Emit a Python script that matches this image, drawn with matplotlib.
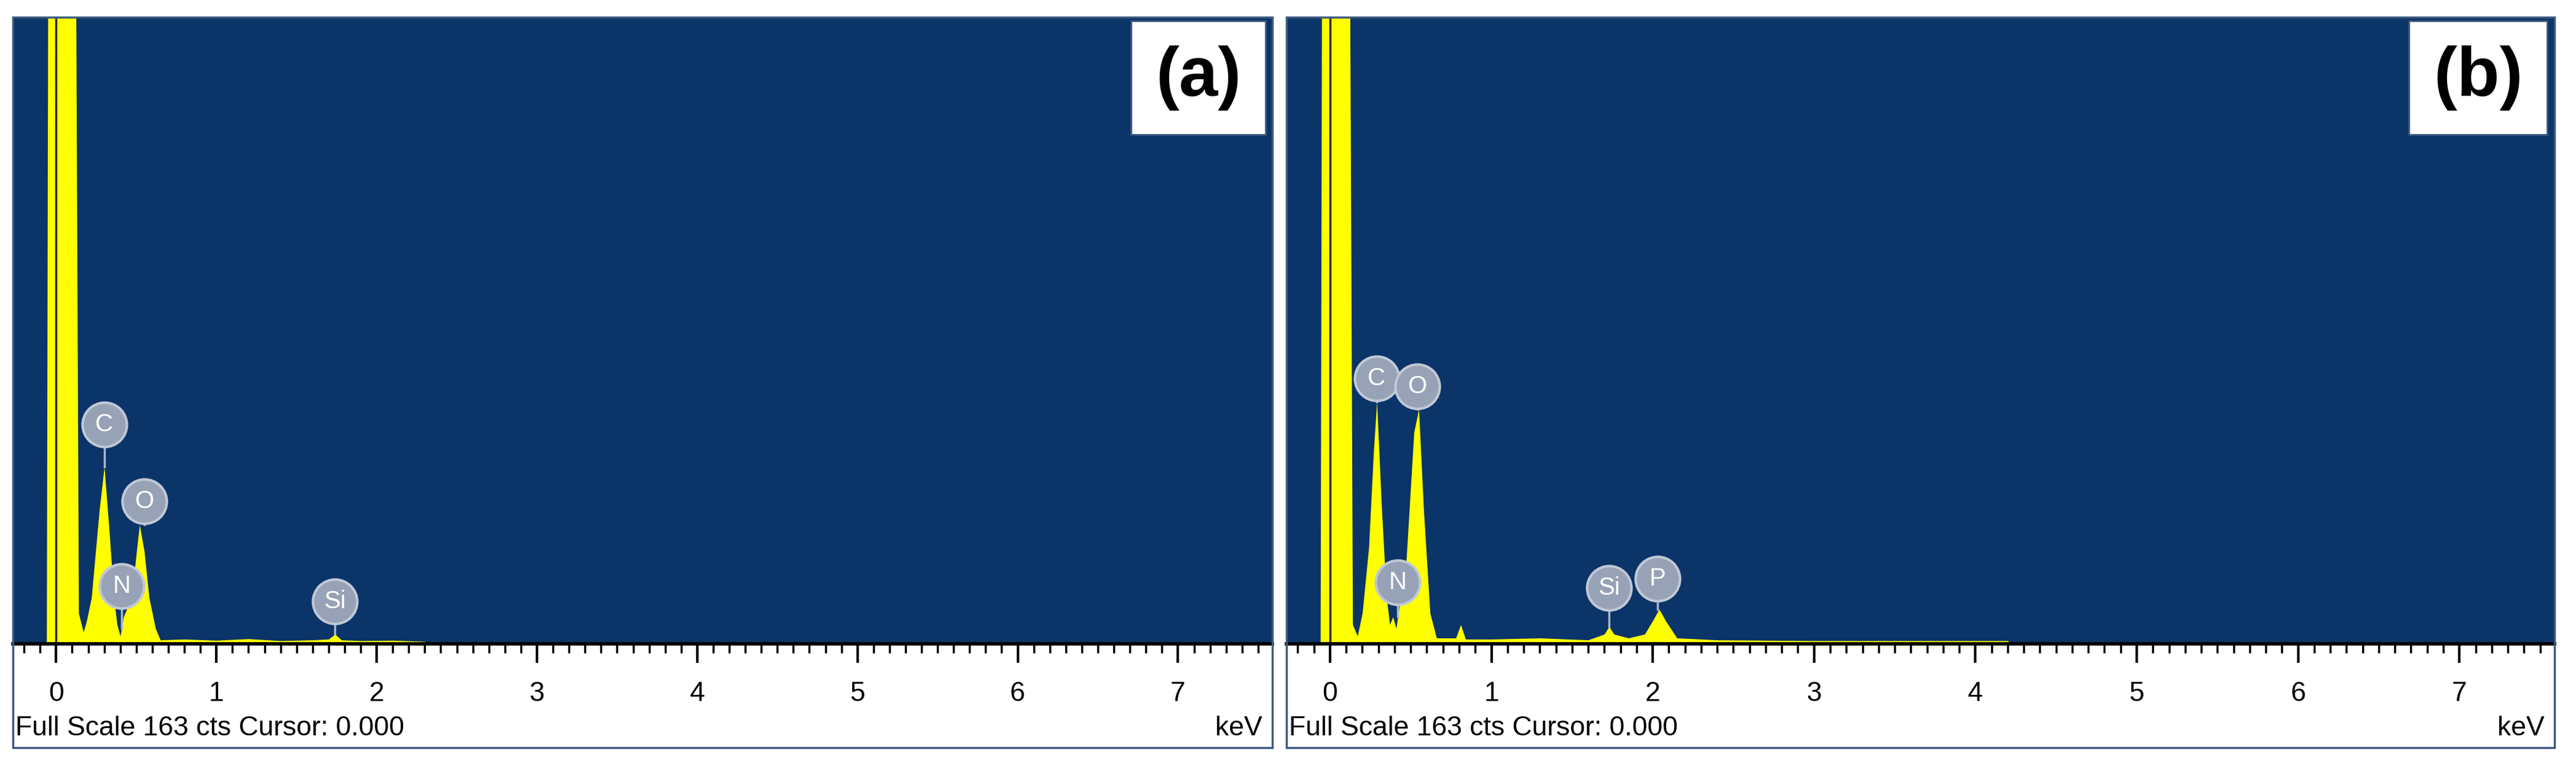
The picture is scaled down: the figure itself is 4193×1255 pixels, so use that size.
import matplotlib.pyplot as plt
from matplotlib.patches import Rectangle
from matplotlib.ticker import MultipleLocator

plt.rcParams['font.family'] = ['Liberation Sans', 'DejaVu Sans']

# spectrum (a): energy in keV, counts
a_energy = [-0.06, -0.05, 0.12, 0.14, 0.17, 0.19, 0.22, 0.27, 0.30, 0.33, 0.36, 0.38, 0.40, 0.42, 0.44,
            0.47, 0.52, 0.55, 0.58, 0.62, 0.65, 0.8, 1.0, 1.2, 1.4, 1.6, 1.7, 1.74, 1.78, 1.9, 2.1, 2.3, 2.32, 7.6]
a_counts = [0, 200, 200, 8, 3, 6, 12, 35, 46, 30, 12, 5, 2, 7, 9,
            12, 31, 24, 12, 4, 1, 1.2, 0.9, 1.3, 0.8, 1.0, 1.2, 2.5, 1.0, 0.8, 0.9, 0.6, 0, 0]
a_labels = ['C', 'N', 'O', 'Si']
a_label_x = [0.30, 0.41, 0.55, 1.74]
a_label_y = [57, 15, 37, 11]
a_peak_y = [46, 4, 31, 2.5]

# spectrum (b)
b_energy = [-0.06, -0.05, 0.12, 0.14, 0.17, 0.20, 0.24, 0.27, 0.29, 0.32, 0.35, 0.37, 0.39, 0.41, 0.43,
            0.47, 0.52, 0.55, 0.58, 0.62, 0.66, 0.78, 0.81, 0.84, 1.0, 1.3, 1.6, 1.70, 1.73, 1.76, 1.85, 1.95,
            2.0, 2.04, 2.08, 2.15, 2.4, 3.0, 4.2, 4.22, 7.6]
b_counts = [0, 200, 200, 5, 2, 8, 25, 50, 63, 35, 12, 5, 7, 4, 10,
            20, 55, 61, 35, 8, 1.5, 1.5, 5, 1.2, 1.2, 1.5, 1.0, 2.5, 4.5, 2.5, 1.5, 2.5,
            6, 9, 6, 1.5, 1.0, 0.8, 0.8, 0, 0]
b_labels = ['C', 'O', 'N', 'Si', 'P']
b_label_x = [0.29, 0.54, 0.42, 1.73, 2.03]
b_label_y = [69, 67, 16, 14.5, 17]
b_peak_y = [63, 61, 7, 4.5, 9]

panels = [
    ('(a)', a_energy, a_counts, a_labels, a_label_x, a_label_y, a_peak_y, 0.005, 0.494),
    ('(b)', b_energy, b_counts, b_labels, b_label_x, b_label_y, b_peak_y, 0.4994, 0.9917),
]

bg = '#0b3468'
fig = plt.figure(figsize=(41.93, 12.55), dpi=100)

for tag, xe, yc, labs, lx, ly, py, x0, x1 in panels:
    # panel frame
    fig.patches.append(Rectangle((x0, 0.030), x1 - x0, 0.948, transform=fig.transFigure,
                                 facecolor='none', edgecolor='#3d5a80', lw=2.5, zorder=0))
    ax = fig.add_axes([x0, 0.165, x1 - x0, 0.813])
    ax.set_facecolor(bg)
    ax.fill_between(xe, yc, color='#ffff00', lw=0, zorder=2)
    ax.axvline(0, color='#2a2a10', lw=2.5, zorder=3)
    ax.set_xlim(-0.27, 7.59)
    ax.set_ylim(0, 163)
    for s in ax.spines.values():
        s.set_visible(False)
    ax.axhline(0, color='black', lw=4, zorder=4, clip_on=False)
    ax.set_yticks([])
    ax.xaxis.set_major_locator(MultipleLocator(1))
    ax.xaxis.set_minor_locator(MultipleLocator(0.1))
    ax.tick_params(axis='x', which='major', direction='out', length=22, width=3, labelsize=32, pad=22)
    ax.tick_params(axis='x', which='minor', direction='out', length=11, width=2.5)

    for lab, x, y, p in zip(labs, lx, ly, py):
        ax.plot([x, x], [p, y], color='#a9b8cc', lw=2.5, zorder=5)
        ax.scatter([x], [y], s=2700, color='#98a2b6', edgecolors='#c0c8d6', linewidths=3, zorder=6)
        ax.text(x, y, lab, color='white', fontsize=29, ha='center', va='center', zorder=7)

    # white label box
    ax.text(0.975, 0.955, tag, transform=ax.transAxes, fontsize=82, fontweight='bold',
            ha='right', va='top',
            bbox=dict(boxstyle='square,pad=0.35', facecolor='white', edgecolor='#3d5a80', lw=2))

    fig.text(x0 + 0.001, 0.055, 'Full Scale 163 cts Cursor: 0.000', fontsize=32, ha='left', va='center')
    fig.text(x1 - 0.004, 0.055, 'keV', fontsize=32, ha='right', va='center')

fig.savefig('out.png', dpi=100, facecolor='white')
